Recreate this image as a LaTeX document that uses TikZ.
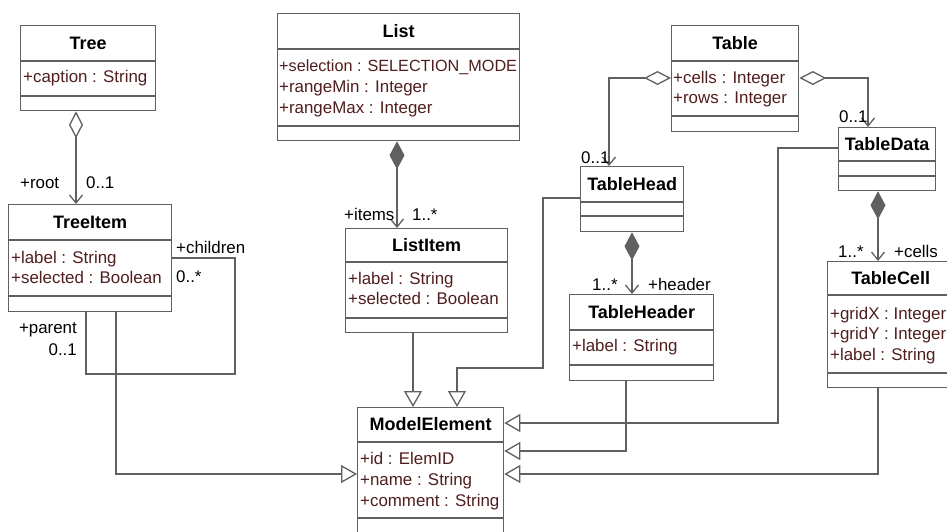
\documentclass[tikz,border=0pt]{standalone}
\usepackage{fontspec}
\setmainfont{Liberation Sans}
\usetikzlibrary{arrows.meta}
\definecolor{linegray}{RGB}{96,96,96}
\definecolor{attrred}{RGB}{80,30,30}

\begin{document}
\begin{tikzpicture}[
  x=1pt, y=-1pt,
  every node/.style={font=\fontsize{16.9}{20}\selectfont},
  cls/.style={draw=linegray, line width=1.3pt, fill=white, anchor=north west, inner sep=0pt},
  sep/.style={draw=linegray, line width=1.3pt},
  ttl/.style={font=\fontsize{18}{21}\selectfont\bfseries, inner sep=0pt},
  attr/.style={text=attrred, anchor=base west, inner sep=0pt},
  role/.style={anchor=base west, inner sep=0pt},
  assoc/.style={draw=linegray, line width=1.3pt},
  agg/.style={assoc, {Diamond[open, length=27pt, width=14pt]}-{Straight Barb[length=8pt, width=13pt]}},
  comp/.style={assoc, {Diamond[length=28pt, width=15pt]}-{Straight Barb[length=8pt, width=13pt]}},
  inh/.style={assoc, -{Triangle[open, length=16pt, width=18pt]}}
]

\useasboundingbox (0,0) rectangle (947,531);
\clip (0,0) rectangle (947,531);

% Tree
\node[cls, minimum width=135pt, minimum height=85pt] (tree) at (20,25) {};
\draw[sep] (tree.west |- 0,61) -- (tree.east |- 0,61);
\draw[sep] (tree.west |- 0,96) -- (tree.east |- 0,96);
\node[ttl] (tree-t) at (tree.north |- 0,43) {Tree};
\node[attr] (tree-a1) at (23,82) {+caption : String};

% TreeItem
\node[cls, minimum width=163pt, minimum height=107pt] (treeitem) at (8,204) {};
\draw[sep] (treeitem.west |- 0,240) -- (treeitem.east |- 0,240);
\draw[sep] (treeitem.west |- 0,296) -- (treeitem.east |- 0,296);
\node[ttl] (treeitem-t) at (treeitem.north |- 0,222) {TreeItem};
\node[attr] (treeitem-a1) at (11,263) {+label : String};
\node[attr] (treeitem-a2) at (11,283) {+selected : Boolean};

% List
\node[cls, minimum width=242pt, minimum height=127pt] (list) at (277,13) {};
\draw[sep] (list.west |- 0,49) -- (list.east |- 0,49);
\draw[sep] (list.west |- 0,126) -- (list.east |- 0,126);
\node[ttl] (list-t) at (list.north |- 0,31) {List};
\node[attr, font=\fontsize{16.2}{20}\selectfont] (list-a1) at (279,71) {+selection : SELECTION\_MODE};
\node[attr] (list-a2) at (279,92) {+rangeMin : Integer};
\node[attr] (list-a3) at (279,113) {+rangeMax : Integer};

% ListItem
\node[cls, minimum width=162pt, minimum height=104pt] (listitem) at (345,228) {};
\draw[sep] (listitem.west |- 0,262) -- (listitem.east |- 0,262);
\draw[sep] (listitem.west |- 0,318) -- (listitem.east |- 0,318);
\node[ttl] (listitem-t) at (listitem.north |- 0,245) {ListItem};
\node[attr] (listitem-a1) at (348,284) {+label : String};
\node[attr] (listitem-a2) at (348,304) {+selected : Boolean};

% Table
\node[cls, minimum width=127pt, minimum height=106pt] (table) at (671,25) {};
\draw[sep] (table.west |- 0,61) -- (table.east |- 0,61);
\draw[sep] (table.west |- 0,116) -- (table.east |- 0,116);
\node[ttl] (table-t) at (table.north |- 0,43) {Table};
\node[attr] (table-a1) at (673,83) {+cells : Integer};
\node[attr] (table-a2) at (673,103) {+rows : Integer};

% TableHead
\node[cls, minimum width=103pt, minimum height=65pt] (tablehead) at (580,166) {};
\draw[sep] (tablehead.west |- 0,202) -- (tablehead.east |- 0,202);
\draw[sep] (tablehead.west |- 0,216) -- (tablehead.east |- 0,216);
\node[ttl] (tablehead-t) at (tablehead.north |- 0,184) {TableHead};

% TableHeader
\node[cls, minimum width=144pt, minimum height=86pt] (tableheader) at (569,294) {};
\draw[sep] (tableheader.west |- 0,330) -- (tableheader.east |- 0,330);
\draw[sep] (tableheader.west |- 0,365) -- (tableheader.east |- 0,365);
\node[ttl] (tableheader-t) at (tableheader.north |- 0,312) {TableHeader};
\node[attr] (tableheader-a1) at (572,351) {+label : String};

% TableData
\node[cls, minimum width=97pt, minimum height=63pt] (tabledata) at (838,127) {};
\draw[sep] (tabledata.west |- 0,161) -- (tabledata.east |- 0,161);
\draw[sep] (tabledata.west |- 0,176) -- (tabledata.east |- 0,176);
\node[ttl] (tabledata-t) at (tabledata.north |- 0,144) {TableData};

% TableCell
\node[cls, minimum width=126pt, minimum height=126pt] (tablecell) at (827,261) {};
\draw[sep] (tablecell.west |- 0,295) -- (tablecell.east |- 0,295);
\draw[sep] (tablecell.west |- 0,373) -- (tablecell.east |- 0,373);
\node[ttl] (tablecell-t) at (tablecell.north |- 0,278) {TableCell};
\node[attr] (tablecell-a1) at (830,319) {+gridX : Integer};
\node[attr] (tablecell-a2) at (830,339.5) {+gridY : Integer};
\node[attr] (tablecell-a3) at (830,360) {+label : String};

% ModelElement
\node[cls, minimum width=146pt, minimum height=128pt] (modelelement) at (357,407) {};
\draw[sep] (modelelement.west |- 0,442) -- (modelelement.east |- 0,442);
\draw[sep] (modelelement.west |- 0,518) -- (modelelement.east |- 0,518);
\node[ttl] (modelelement-t) at (modelelement.north |- 0,424.5) {ModelElement};
\node[attr] (modelelement-a1) at (360,464) {+id : ElemID};
\node[attr] (modelelement-a2) at (360,485) {+name : String};
\node[attr] (modelelement-a3) at (360,506) {+comment : String};

% Tree -- TreeItem
\draw[agg] (76,0 |- tree.south) -- (76,0 |- treeitem.north);
\node[role] (root-r) at (20,188) {+root};
\node[role] (root-m) at (86,188) {0..1};

% TreeItem children
\draw[assoc] (treeitem.east |- 0,258) -| (235,374) -| (86,0 |- treeitem.south);
\node[role] (children-r) at (176,253) {+children};
\node[role] (children-m) at (176,282) {0..*};
\node[role, anchor=base east] (parent-r) at (77,333) {+parent};
\node[role, anchor=base east] (parent-m) at (77,355) {0..1};

% List -- ListItem
\draw[comp] (397,0 |- list.south) -- (397,0 |- listitem.north);
\node[role] (items-r) at (344,220) {+items};
\node[role] (items-m) at (412,220) {1..*};

% Table -- TableHead, TableData
\draw[agg] (table.west |- 0,78) -| (609,0 |- tablehead.north);
\node[role] (head-m) at (581,163) {0..1};
\draw[agg] (table.east |- 0,78) -| (868,0 |- tabledata.north);
\node[role] (data-m) at (839,122) {0..1};

% TableHead -- TableHeader
\draw[comp] (632,0 |- tablehead.south) -- (632,0 |- tableheader.north);
\node[role] (header-m) at (592,290) {1..*};
\node[role] (header-r) at (648,290) {+header};

% TableData -- TableCell
\draw[comp] (878,0 |- tabledata.south) -- (878,0 |- tablecell.north);
\node[role] (cells-m) at (838,257) {1..*};
\node[role] (cells-r) at (894,257) {+cells};

% Generalizations
\draw[inh] (116,0 |- treeitem.south) |- (modelelement.west |- 0,474);
\draw[inh] (413,0 |- listitem.south) -- (413,0 |- modelelement.north);
\draw[inh] (tablehead.west |- 0,198) -| (543,368) -| (457,0 |- modelelement.north);
\draw[inh] (tabledata.west |- 0,148) -| (778,423) -- (modelelement.east |- 0,423);
\draw[inh] (626,0 |- tableheader.south) |- (modelelement.east |- 0,451);
\draw[inh] (878,0 |- tablecell.south) |- (modelelement.east |- 0,474);

\end{tikzpicture}
\end{document}
